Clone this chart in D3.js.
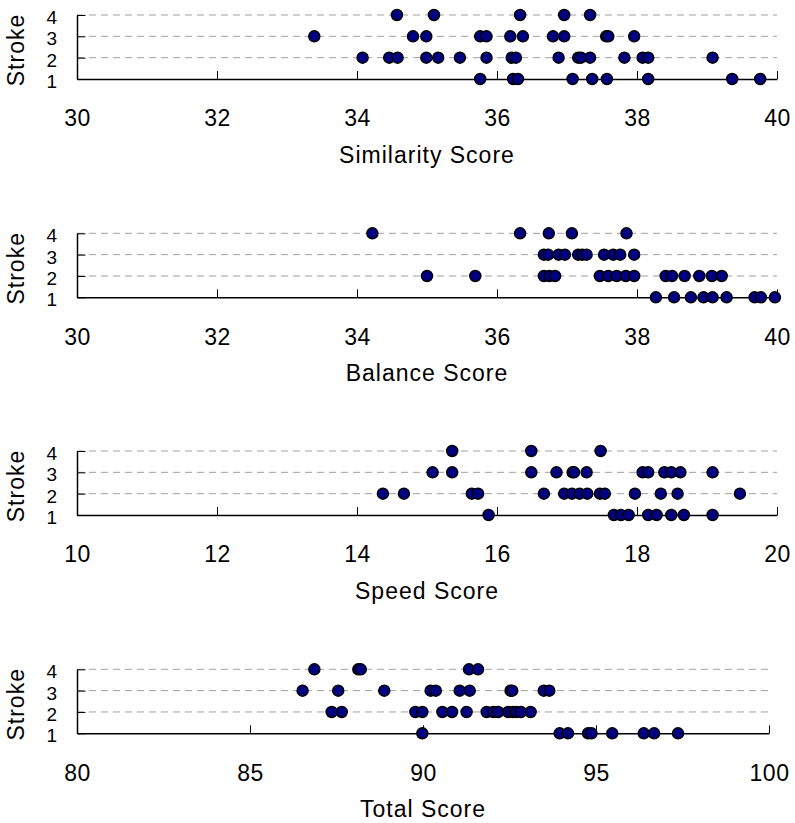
<!DOCTYPE html>
<html>
<head>
<meta charset="utf-8">
<script src="https://cdn.jsdelivr.net/npm/d3@7"></script>
<style>
  body { margin: 0; background: #fff; }
  svg text { font-family: "Liberation Sans", Arial, sans-serif; fill: #000; }
  .xt text { font-size: 23px; letter-spacing: 0.5px; }
  .yt text { font-size: 19px; }
  .title { font-size: 23px; letter-spacing: 1px; }
</style>
</head>
<body>
<svg id="chart" width="795" height="823"></svg>
<script>
// score values for stroke 1..4 in each panel
var similarity = [
  [35.76, 36.23, 36.30, 37.08, 37.36, 37.57, 38.16, 39.36, 39.76],
  [34.08, 34.46, 34.58, 34.99, 35.16, 35.47, 35.85, 36.21, 36.27, 36.88, 37.16, 37.2, 37.33, 37.82, 38.08, 38.16, 39.08],
  [33.39, 34.80, 34.99, 35.76, 35.85, 36.19, 36.37, 36.80, 36.96, 37.56, 37.59, 37.96],
  [34.57, 35.10, 36.33, 36.96, 37.33]
];
var balance = [
  [38.27, 38.53, 38.77, 38.95, 39.08, 39.28, 39.68, 39.77, 39.97],
  [35.0, 35.69, 36.67, 36.75, 36.83, 37.47, 37.59, 37.71, 37.84, 37.96, 38.41, 38.50, 38.68, 38.89, 39.07, 39.21],
  [36.67, 36.73, 36.88, 36.97, 37.16, 37.22, 37.28, 37.53, 37.66, 37.76, 37.96],
  [34.22, 36.33, 36.74, 37.07, 37.85]
];
var speed = [
  [15.88, 17.67, 17.77, 17.88, 18.16, 18.28, 18.49, 18.67, 19.08],
  [14.37, 14.67, 15.64, 15.73, 16.67, 16.96, 17.07, 17.18, 17.29, 17.47, 17.54, 17.97, 18.34, 18.58, 19.47],
  [15.08, 15.36, 16.49, 16.85, 17.08, 17.10, 17.28, 18.08, 18.16, 18.39, 18.49, 18.62, 19.08],
  [15.36, 16.49, 17.48]
];
var total = [
  [89.98, 93.95, 94.19, 94.77, 94.87, 95.47, 96.38, 96.68, 97.37],
  [87.36, 87.65, 89.78, 89.98, 90.56, 90.84, 91.26, 91.84, 92.03, 92.17, 92.46, 92.6, 92.70, 92.83, 93.11],
  [86.52, 87.55, 88.88, 90.22, 90.37, 91.06, 91.35, 92.53, 92.58, 93.49, 93.65],
  [86.86, 88.13, 88.2, 91.33, 91.59]
];

var strokes = [1, 2, 3, 4];
var titles = ["Similarity Score", "Balance Score", "Speed Score", "Total Score"];
var domains = [[30, 40], [30, 40], [10, 20], [80, 100]];
var tickSets = [
  [30, 32, 34, 36, 38, 40],
  [30, 32, 34, 36, 38, 40],
  [10, 12, 14, 16, 18, 20],
  [80, 85, 90, 95, 100]
];
var series = [similarity, balance, speed, total];

var svg = d3.select("#chart");

// layout per panel
var left = 77;
var rights = [777, 777, 777, 769];
var baseY = [79, 297.3, 515, 733.3];

series.forEach(function (data, i) {
  var x = d3.scaleLinear().domain(domains[i]).range([left, rights[i]]);
  var y = d3.scaleLinear().domain([1, 4]).range([baseY[i], baseY[i] - 64]);
  var g = svg.append("g");

  // dashed grid lines
  g.append("g")
    .selectAll("line")
    .data([2, 3, 4])
    .enter().append("line")
    .attr("x1", left)
    .attr("x2", rights[i])
    .attr("y1", function (d) { return y(d); })
    .attr("y2", function (d) { return y(d); })
    .attr("stroke", "#a0a0a0")
    .attr("stroke-width", 1)
    .attr("stroke-dasharray", "7,5");

  // x axis
  var xa = g.append("g")
    .attr("class", "xt")
    .attr("transform", "translate(0," + baseY[i] + ")")
    .call(d3.axisBottom(x).tickValues(tickSets[i]).tickSize(-8).tickSizeOuter(0).tickPadding(31));
  xa.select(".domain").attr("stroke", "#000").attr("stroke-width", 1.5);
  xa.selectAll(".tick line").attr("stroke", "#000");
  xa.selectAll("text").attr("font-family", null).attr("font-size", null);

  // y axis
  var ya = g.append("g")
    .attr("class", "yt")
    .attr("transform", "translate(" + left + ",0)")
    .call(d3.axisLeft(y).tickValues(strokes).tickSize(-8.5).tickSizeOuter(0).tickPadding(20).tickFormat(d3.format("d")));
  ya.select(".domain").attr("stroke", "#000").attr("stroke-width", 1.5);
  ya.selectAll(".tick line").attr("stroke", "#000");
  ya.selectAll("text").attr("font-family", null).attr("font-size", null).attr("dy", "0.45em");

  // axis titles
  g.append("text")
    .attr("class", "title")
    .attr("x", (left + rights[i]) / 2 + 0)
    .attr("y", baseY[i] + 84)
    .attr("text-anchor", "middle")
    .text(titles[i]);

  g.append("text")
    .attr("class", "title")
    .attr("transform", "translate(24," + (baseY[i] - 29) + ") rotate(-90)")
    .attr("text-anchor", "middle")
    .text("Stroke");

  // points
  data.forEach(function (vals, k) {
    g.append("g")
      .selectAll("circle")
      .data(vals)
      .enter().append("circle")
      .attr("cx", function (d) { return x(d); })
      .attr("cy", y(strokes[k]))
      .attr("r", 5.5)
      .attr("fill", "#000080")
      .attr("stroke", "#000")
      .attr("stroke-width", 1.5);
  });
});
</script>
</body>
</html>
